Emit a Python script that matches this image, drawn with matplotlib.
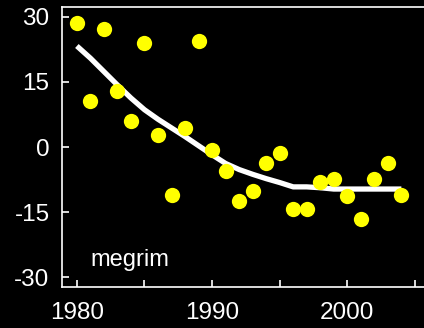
import matplotlib
matplotlib.use("Agg")
import matplotlib.pyplot as plt
from matplotlib.ticker import FixedLocator

years = list(range(1980, 2005))
values = [28.6, 10.7, 27.2, 12.9, 6.1, 23.9, 2.8, -11.0, 4.4, 24.5,
          -0.7, -5.6, -12.4, -10.1, -3.6, -1.3, -14.2, -14.2, -8.1, -7.3,
          -11.2, -16.5, -7.3, -3.6, -11.0]
trend = [23.3, 20.5, 17.4, 14.3, 11.3, 8.6, 6.4, 4.4, 2.4, 0.3,
         -1.8, -3.8, -5.2, -6.3, -7.3, -8.2, -9.2, -9.2, -9.4, -9.7,
         -9.7, -9.7, -9.7, -9.7, -9.7]
yticks = [-30, -15, 0, 15, 30]
xticks = [1980, 1990, 2000]
xminor = [1985, 1995, 2005]
label = "megrim"

plt.rcParams['font.family'] = ['Liberation Sans', 'DejaVu Sans']
fig = plt.figure(figsize=(4.24, 3.28), dpi=100, facecolor='black')
ax = fig.add_axes([62/424, 1-287/328, 1-62/424 + 0.02, (287-7)/328])
ax.set_facecolor('black')

ax.plot(years, trend, color='white', lw=3.8, solid_capstyle='butt', zorder=2)
ax.plot(years, values, 'o', color='#ffff00', markersize=11, markeredgewidth=0, zorder=3)

ax.set_xlim(1978.9, 2006.3)
ax.set_ylim(-32.3, 32.3)
ax.set_yticks(yticks)
ax.set_yticklabels([str(v) for v in yticks])
ax.set_xticks(xticks)
ax.set_xticklabels([str(v) for v in xticks])
ax.xaxis.set_minor_locator(FixedLocator(xminor))

for s in ['left', 'bottom', 'top', 'right']:
    ax.spines[s].set_color('white')
    ax.spines[s].set_linewidth(1.2)

ax.tick_params(axis='both', which='both', direction='in', color='white',
               labelcolor='white', labelsize=17.5, length=5, width=1.2)
ax.tick_params(axis='x', which='both', pad=11)
ax.tick_params(axis='y', pad=9)

ax.text(1981.0, -27.5, label, color='white', fontsize=17, ha='left', va='baseline')

fig.savefig('out.png', dpi=100, facecolor='black')
